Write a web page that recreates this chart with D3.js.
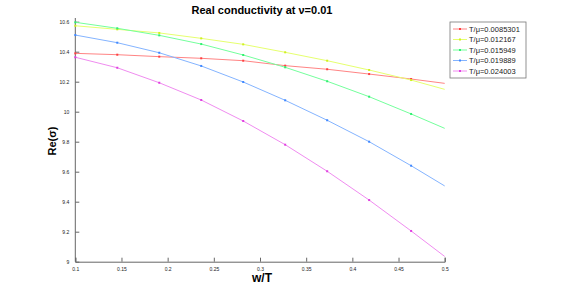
<!DOCTYPE html>
<html>
<head>
<meta charset="utf-8">
<script src="https://cdn.jsdelivr.net/npm/d3@7"></script>
<style>
body { margin: 0; background: white; }
text { font-family: "Liberation Sans", Arial, sans-serif; }
</style>
</head>
<body>
<script>
// w/T sample points (markers) plus the end of the curve at 0.5
let wT = [0.1, 0.14545, 0.19091, 0.23636, 0.28182, 0.32727, 0.37273, 0.41818, 0.46364, 0.5];
let labels = ["T/\u03bc=0.0085301", "T/\u03bc=0.012167", "T/\u03bc=0.015949", "T/\u03bc=0.019889", "T/\u03bc=0.024003"];
let red    = [10.389, 10.380, 10.367, 10.356, 10.340, 10.307, 10.283, 10.251, 10.218, 10.189];
let yellow = [10.573, 10.549, 10.525, 10.489, 10.449, 10.396, 10.340, 10.278, 10.211, 10.149];
let green  = [10.596, 10.556, 10.509, 10.451, 10.378, 10.296, 10.203, 10.100, 9.985, 9.889];
let blue   = [10.511, 10.460, 10.393, 10.305, 10.198, 10.076, 9.943, 9.800, 9.640, 9.505];
let purple = [10.363, 10.293, 10.193, 10.078, 9.938, 9.780, 9.603, 9.411, 9.205, 9.035];
let xTicks = [0.1, 0.15, 0.2, 0.25, 0.3, 0.35, 0.4, 0.45, 0.5];
let yTicks = [9, 9.2, 9.4, 9.6, 9.8, 10, 10.2, 10.4, 10.6];

let series = [red, yellow, green, blue, purple];
let lineColours = ["#ff8484", "#e6ff6e", "#74ff9c", "#84b4ff", "#f08cf0"];
let markColours = ["#ff4040", "#d0f020", "#30f070", "#4088ff", "#e040e0"];

let w = 581, h = 294;
let svg = d3.select("body").append("svg").attr("width", w).attr("height", h);

let x = d3.scaleLinear().domain([0.1, 0.5]).range([75.3, 444.7]);
let y = d3.scaleLinear().domain([9, 10.6]).range([261.7, 21.7]);

// axes (ticks point inwards)
let xAxis = d3.axisBottom(x).tickValues(xTicks).tickSize(-4).tickPadding(6).tickFormat(d3.format("~g"));
let yAxis = d3.axisLeft(y).tickValues(yTicks).tickSize(-4).tickPadding(6).tickFormat(d3.format("~g"));

let gx = svg.append("g").attr("transform", "translate(0,261.7)").call(xAxis);
let gy = svg.append("g").attr("transform", "translate(75.3,0)").call(yAxis);
[gx, gy].forEach(g => {
  g.select(".domain").attr("stroke", "#666");
  g.selectAll(".tick line").attr("stroke", "#666");
  g.selectAll(".tick text").attr("font-size", 5).attr("fill", "#222");
});
gy.select(".domain").attr("d", "M0,261.7V18");

// curves
let line = d3.line().x(d => x(d[0])).y(d => y(d[1]));
series.forEach((s, i) => {
  let pts = wT.map((t, j) => [t, s[j]]);
  svg.append("path").datum(pts)
    .attr("d", line)
    .attr("fill", "none")
    .attr("stroke", lineColours[i])
    .attr("stroke-width", 1);
  svg.append("g").selectAll("rect")
    .data(pts.slice(0, pts.length - 1))
    .join("rect")
      .attr("x", d => x(d[0]) - 1)
      .attr("y", d => y(d[1]) - 1)
      .attr("width", 2)
      .attr("height", 2)
      .attr("fill", markColours[i]);
});

// title and axis labels
svg.append("text").attr("x", 262).attr("y", 14).attr("text-anchor", "middle")
  .attr("font-size", 11).attr("font-weight", "bold").text("Real conductivity at \u03bd=0.01");
svg.append("text").attr("x", 262).attr("y", 282).attr("text-anchor", "middle")
  .attr("font-size", 12).attr("font-weight", "bold").text("w/T");
svg.append("text").attr("transform", "translate(56,141) rotate(-90)").attr("text-anchor", "middle")
  .attr("font-size", 11).attr("font-weight", "bold").text("Re(\u03c3)");

// legend
let lg = svg.append("g").attr("transform", "translate(450,22)");
lg.append("rect").attr("width", 76).attr("height", 56)
  .attr("fill", "white").attr("stroke", "#777").attr("stroke-width", 0.8);
labels.forEach((l, i) => {
  let yy = 7 + i * 10.5;
  lg.append("line").attr("x1", 3).attr("x2", 17).attr("y1", yy).attr("y2", yy)
    .attr("stroke", lineColours[i]).attr("stroke-width", 1);
  lg.append("rect").attr("x", 9).attr("y", yy - 1).attr("width", 2).attr("height", 2)
    .attr("fill", markColours[i]);
  lg.append("text").attr("x", 19).attr("y", yy + 2.8).attr("font-size", 7.5)
    .attr("fill", "#222").text(l);
});
</script>
</body>
</html>
